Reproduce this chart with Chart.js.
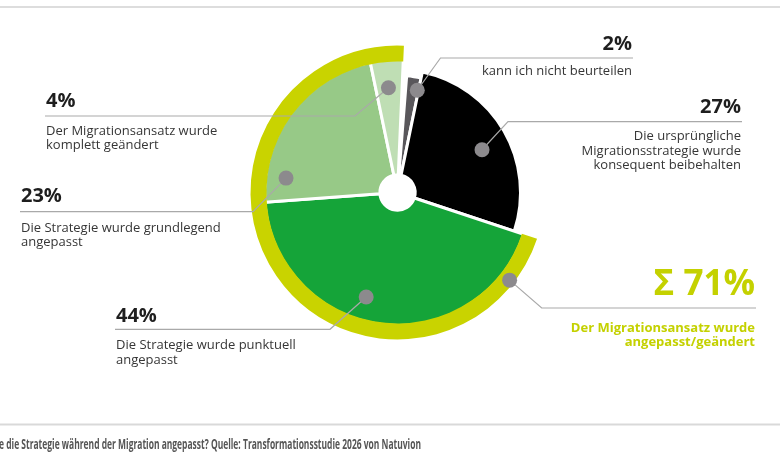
<!DOCTYPE html>
<html lang="de">
<head>
<meta charset="utf-8">
<title>Wurde die Strategie während der Migration angepasst?</title>
<script src="https://cdn.jsdelivr.net/npm/chart.js@4.4.1/dist/chart.umd.min.js"></script>
<style>
    html, body { margin: 0; padding: 0; background: #fff; }
    canvas { display: block; }
</style>
</head>
<body>
<canvas id="migrationChart" width="780" height="470"></canvas>
<script>
// values as printed in the chart
const categories = [
    'kann ich nicht beurteilen',
    'Die ursprüngliche Migrationsstrategie wurde konsequent beibehalten',
    'Die Strategie wurde punktuell angepasst',
    'Die Strategie wurde grundlegend angepasst',
    'Der Migrationsansatz wurde komplett geändert'
];
const shares = [2, 27, 44, 23, 4];
const groups = ['nicht angepasst', 'Der Migrationsansatz wurde angepasst/geändert'];
const groupShares = [29, 71];

// wrapped text of the callouts
const categoryLines = [
    ['kann ich nicht beurteilen'],
    ['Die ursprüngliche', 'Migrationsstrategie wurde', 'konsequent beibehalten'],
    ['Die Strategie wurde punktuell', 'angepasst'],
    ['Die Strategie wurde grundlegend', 'angepasst'],
    ['Der Migrationsansatz wurde', 'komplett geändert']
];
const groupLines = ['Der Migrationsansatz wurde', 'angepasst/geändert'];
const caption = 'e die Strategie während der Migration angepasst? Quelle: Transformationsstudie 2026 von Natuvion';

const sliceColors = ['#59575b', '#000000', '#15a439', '#97c987', '#bfdeb4'];
const ringColor = '#c9d300';
const sumColor = '#c4d100';
// slices are cut to different depths (px relative to the ring's inner edge)
const sliceDepth = [-14, -8, 2, 2, 2];

// dot: [fraction along the arc, fraction of the radius]
const callouts = [
    {dot: [0.9, 0.89], elbow: [440.5, 58], end: 633, align: 'right', pctY: 49.5, textY: 75},
    {dot: [0.533, 0.77], elbow: [508, 121.7], end: 742, align: 'right', pctY: 112.7, textY: 140},
    {dot: [0.561, 0.82], elbow: [330, 329.3], end: 115, align: 'left', pctY: 321.7, textY: 349},
    {dot: [0.14, 0.845], elbow: [253, 211.7], end: 20, align: 'left', pctY: 201.7, textY: 231.7},
    {dot: [0.48, 0.79], elbow: [355, 116], end: 45, align: 'left', pctY: 107.3, textY: 134.5}
];
const groupCallout = {dot: [0.0775, 0.968], elbow: [541.7, 308], end: 756, align: 'right', pctY: 295, textY: 331.7};

const LINE_HEIGHT = 14.5;

function pointOnArc(arc, along, radial) {
    const a = arc.startAngle + along * (arc.endAngle - arc.startAngle);
    const r = radial * arc.outerRadius;
    return [arc.x + Math.cos(a) * r, arc.y + Math.sin(a) * r];
}

function drawCallout(ctx, arc, c, pctText, lines, opts) {
    const dot = pointOnArc(arc, c.dot[0], c.dot[1]);

    ctx.strokeStyle = '#a9a9a9';
    ctx.lineWidth = 1.2;
    ctx.beginPath();
    ctx.moveTo(dot[0], dot[1]);
    ctx.lineTo(c.elbow[0], c.elbow[1]);
    ctx.lineTo(c.end, c.elbow[1]);
    ctx.stroke();

    ctx.fillStyle = '#8c8a8d';
    ctx.beginPath();
    ctx.arc(dot[0], dot[1], 7.5, 0, Math.PI * 2);
    ctx.fill();

    const x = c.align === 'right' ? c.end - 1 : c.end + 1;
    ctx.textAlign = c.align;
    ctx.textBaseline = 'alphabetic';
    ctx.fillStyle = opts.pctColor;
    ctx.font = opts.pctFont;
    ctx.fillText(pctText, x, c.pctY);

    ctx.fillStyle = opts.textColor;
    ctx.font = opts.textFont;
    lines.forEach((line, i) => ctx.fillText(line, x, c.textY + i * LINE_HEIGHT));
}

const depthPlugin = {
    id: 'sliceDepth',
    beforeDatasetsDraw(chart) {
        const meta = chart.getDatasetMeta(1);
        meta.data.forEach((arc, i) => {
            arc.outerRadius = meta.controller.outerRadius + sliceDepth[i];
        });
    }
};

const calloutPlugin = {
    id: 'callouts',
    beforeDraw(chart) {
        const ctx = chart.ctx;
        ctx.save();
        ctx.fillStyle = '#dddddd';
        ctx.fillRect(0, 6, chart.width, 2);
        ctx.fillStyle = '#d9d9d9';
        ctx.fillRect(0, 423.5, chart.width, 2);
        ctx.restore();
    },
    afterDatasetsDraw(chart) {
        const ctx = chart.ctx;
        const slices = chart.getDatasetMeta(1).data;
        const ring = chart.getDatasetMeta(0).data;
        ctx.save();

        slices.forEach((arc, i) => {
            drawCallout(ctx, arc, callouts[i], shares[i] + '%', categoryLines[i], {
                pctColor: '#1e1e1e',
                pctFont: 'bold 20px "Open Sans"',
                textColor: '#363636',
                textFont: '13px "Open Sans"'
            });
        });

        drawCallout(ctx, ring[1], groupCallout, 'Σ ' + groupShares[1] + '%', groupLines, {
            pctColor: sumColor,
            pctFont: 'bold 35px "Open Sans"',
            textColor: sumColor,
            textFont: 'bold 13px "Open Sans"'
        });

        // caption set in a narrow cut
        ctx.font = 'bold 14px "Open Sans"';
        ctx.fillStyle = '#555555';
        ctx.textAlign = 'left';
        const w = ctx.measureText(caption).width;
        ctx.translate(-1, 448.5);
        ctx.scale(422 / w, 1);
        ctx.fillText(caption, 0, 0);
        ctx.restore();
    }
};

function buildChart() {
    const ctx = document.getElementById('migrationChart').getContext('2d');
    return new Chart(ctx, {
        type: 'doughnut',
        data: {
            labels: categories,
            datasets: [
                {
                    label: 'Summe',
                    data: groupShares,
                    labels: groups,
                    backgroundColor: ['rgba(0,0,0,0)', ringColor],
                    borderWidth: 0,
                    weight: 16
                },
                {
                    label: 'Anteil',
                    data: shares,
                    backgroundColor: sliceColors,
                    borderColor: '#ffffff',
                    borderWidth: 3,
                    weight: 113.4
                }
            ]
        },
        options: {
            responsive: false,
            animation: false,
            events: [],
            rotation: 4.5,
            circumference: 358,
            radius: 147,
            cutout: '12%',
            layout: {
                padding: {left: 100, right: 85, top: 20, bottom: 105}
            },
            plugins: {
                legend: {display: false},
                tooltip: {enabled: false}
            }
        },
        plugins: [depthPlugin, calloutPlugin]
    });
}

document.fonts.load('13px "Open Sans"').then(buildChart, buildChart);
</script>
</body>
</html>
